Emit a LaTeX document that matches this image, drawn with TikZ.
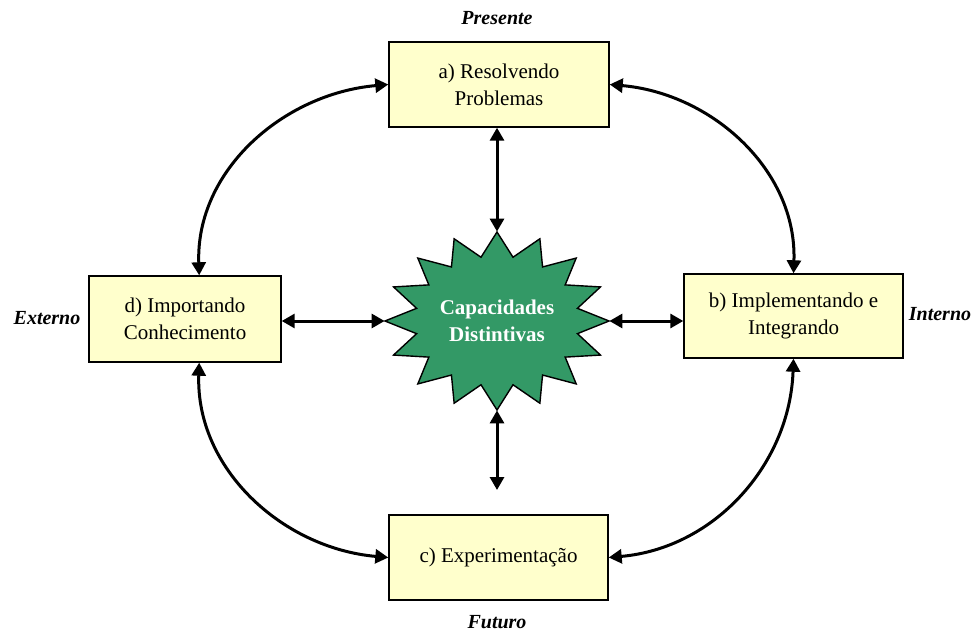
\documentclass[tikz,border=0pt]{standalone}
\usepackage{fontspec}
\setmainfont{Liberation Serif}
\usetikzlibrary{arrows.meta,shapes.geometric}

\tikzset{
  box/.style={draw, line width=0.7pt, fill=boxyellow, align=center, inner sep=2pt},
  side/.style={font=\bfseries\itshape},
  dblarrow/.style={line width=1.5pt, {Triangle[length=6.5pt,width=7pt]}-{Triangle[length=6.5pt,width=7pt]}},
}
\definecolor{boxyellow}{HTML}{FFFFCC}
\definecolor{stargreen}{HTML}{339966}

\begin{document}
\begin{tikzpicture}[x=0.5pt, y=0.5pt, font=\fontsize{10.5}{13.5}\selectfont]

    \useasboundingbox (0,0) rectangle (977,632);

    % Boxes
    \node[box, minimum width=110pt, minimum height=42.5pt] (a) at (499,547.5) {a) Resolvendo\\Problemas};
    \node[box, minimum width=109.5pt, minimum height=42pt] (b) at (793.5,316) {b) Implementando e\\Integrando};
    \node[box, minimum width=109.5pt, minimum height=42.5pt] (c) at (498.5,74.5) {c) Experimentação};
    \node[box, minimum width=96pt, minimum height=43pt] (d) at (185,313) {d) Importando\\Conhecimento};

    % Star
    \begin{scope}[shift={(497,311)}]
      \draw[fill=stargreen, line width=0.7pt] (90:56pt and 44.5pt)
        \foreach \i in {0,...,15} {-- ({90+\i*22.5}:56pt and 44.5pt) -- ({101.25+\i*22.5}:41pt and 32.5pt)} -- cycle;
    \end{scope}
    \node[ellipse, minimum width=112pt, minimum height=89pt, inner sep=0pt, align=center, text=white, font=\fontsize{10.5}{13.5}\selectfont\bfseries] (cap) at (497,311) {Capacidades\\Distintivas};

    % Side labels
    \node[side] (pres) at (497,614) {Presente};
    \node[side] (fut) at (497,10) {Futuro};
    \node[side] (ext) at (47,314) {Externo};
    \node[side] (int) at (940,318) {Interno};

    % Arrows to the star
    \coordinate (cfree) at (497,142);
    \draw[dblarrow] (a.south -| cap.north) -- (cap.north);
    \draw[dblarrow] (cap.south) -- (cap.south |- cfree);
    \draw[dblarrow] (d.east |- cap.west) -- (cap.west);
    \draw[dblarrow] (cap.east) -- (cap.east -| b.west);

    % Arrows round the ring
    \draw[dblarrow] (a.west) to[out=185, in=92] (d.72);
    \draw[dblarrow] (a.east) to[out=-5, in=88] (b.north);
    \draw[dblarrow] (b.south) to[out=-92, in=5] (c.east);
    \draw[dblarrow] (d.-72) to[out=268, in=175] (c.west);

\end{tikzpicture}
\end{document}
